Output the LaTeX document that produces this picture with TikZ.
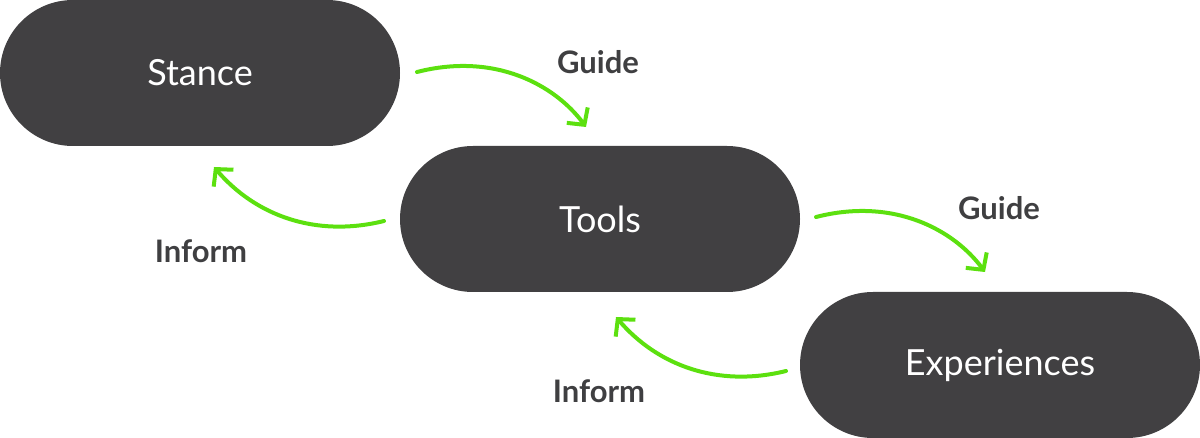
\documentclass[tikz,border=0pt]{standalone}
\usepackage{fontspec}
\setmainfont{Lato}
\usetikzlibrary{arrows.meta}
\definecolor{pill}{HTML}{414042}
\definecolor{arrowgreen}{HTML}{5CE00F}
\definecolor{labelgray}{HTML}{3F3F41}
\tikzset{
  pillbox/.style={fill=pill, draw=none, rounded corners=36.5pt, minimum width=200pt, minimum height=73pt, text=white, font=\fontsize{18}{22}\selectfont, inner sep=0pt},
  flow/.style={draw=arrowgreen, line width=2pt, line cap=round, -{Straight Barb[length=6pt, width=13pt, line width=2pt]}},
  lbl/.style={text=labelgray, font=\bfseries\fontsize{15.5}{18}\selectfont, inner sep=0pt}
}
\begin{document}
\begin{tikzpicture}[x=0.5pt, y=-0.5pt]
\useasboundingbox (0,0) rectangle (1200,438);
\node[pillbox] (stance) at (200,73) {Stance};
\node[pillbox] (tools) at (600,219) {Tools};
\node[pillbox] (exp) at (1000,365) {Experiences};
\coordinate (g1s) at (417,72);
\coordinate (g1e) at (586,127);
\coordinate (i1s) at (384,221);
\coordinate (i1e) at (214,167);
\coordinate (g2s) at (816,217);
\coordinate (g2e) at (985,272);
\coordinate (i2s) at (786,371);
\coordinate (i2e) at (616,317);
\draw[flow] (g1s) .. controls (495,52) and (555,85) .. (g1e);
\draw[flow] (i1s) .. controls (315,238) and (255,215) .. (i1e);
\draw[flow] (g2s) .. controls (894,197) and (954,230) .. (g2e);
\draw[flow] (i2s) .. controls (717,388) and (657,365) .. (i2e);
\node[lbl] (lg1) at (598,62) {Guide};
\node[lbl] (li1) at (201,251) {Inform};
\node[lbl] (lg2) at (999,208) {Guide};
\node[lbl] (li2) at (599,391) {Inform};
\end{tikzpicture}
\end{document}
